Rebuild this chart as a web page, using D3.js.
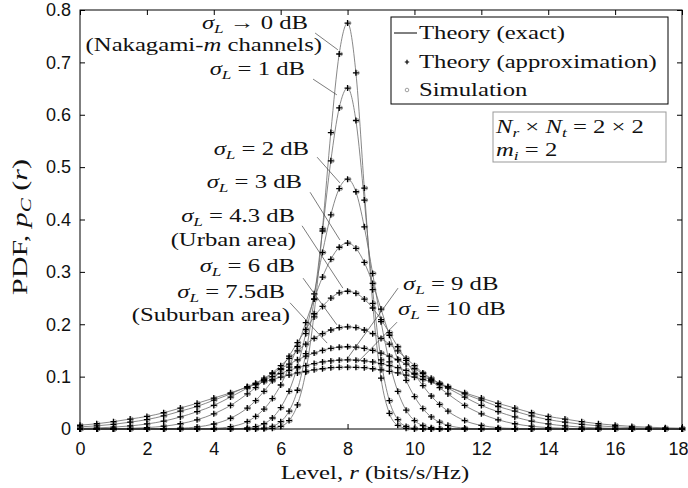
<!DOCTYPE html>
<html>
<head>
<meta charset="utf-8">
<script src="https://cdn.jsdelivr.net/npm/d3@7"></script>
<style>
  body { margin: 0; background: #fff; }
</style>
</head>
<body>
<svg id="chart" width="688" height="488"></svg>
<script>
const levels = [0, 0.5, 1, 1.5, 2, 2.5, 3, 3.5, 4, 4.5, 5,
  5.25, 5.5, 5.75, 6, 6.25, 6.5, 6.75, 7, 7.25, 7.5, 7.75, 8,
  8.25, 8.5, 8.75, 9, 9.25, 9.5, 9.75, 10, 10.25, 10.5, 10.75,
  11, 11.5, 12, 12.5, 13, 13.5, 14, 14.5, 15, 15.5, 16, 16.5, 17, 17.5, 18];

// PDF values, one array per shadowing spread
const pdf0dB = [0, 0, 0, 0, 0, 0, 0, 0, 0, 0, 0,
  0, 0.0003, 0.0013, 0.005, 0.016, 0.046, 0.109, 0.220, 0.382, 0.566, 0.716, 0.775,
  0.680, 0.460, 0.240, 0.097, 0.030, 0.007, 0.0013, 0, 0, 0, 0,
  0, 0, 0, 0, 0, 0, 0, 0, 0, 0, 0, 0, 0, 0, 0];
const pdf1dB = [0, 0, 0, 0, 0, 0, 0, 0, 0, 0, 0.0001,
  0.0005, 0.0016, 0.005, 0.014, 0.034, 0.074, 0.144, 0.248, 0.378, 0.512, 0.613, 0.651,
  0.589, 0.437, 0.266, 0.132, 0.054, 0.018, 0.005, 0.0011, 0.0002, 0, 0,
  0, 0, 0, 0, 0, 0, 0, 0, 0, 0, 0, 0, 0, 0, 0];
const pdf2dB = [0, 0, 0, 0, 0, 0, 0, 0, 0, 0.0002, 0.0019,
  0.0045, 0.010, 0.021, 0.041, 0.072, 0.119, 0.182, 0.258, 0.337, 0.409, 0.459, 0.477,
  0.453, 0.386, 0.297, 0.205, 0.128, 0.072, 0.036, 0.016, 0.0067, 0.0024, 0.0008,
  0.0002, 0, 0, 0, 0, 0, 0, 0, 0, 0, 0, 0, 0, 0, 0];
const pdf3dB = [0, 0, 0, 0, 0, 0, 0, 0.0003, 0.0011, 0.0044, 0.014,
  0.024, 0.038, 0.058, 0.084, 0.118, 0.158, 0.203, 0.248, 0.290, 0.324, 0.347, 0.355,
  0.345, 0.318, 0.278, 0.229, 0.179, 0.133, 0.093, 0.062, 0.039, 0.023, 0.013,
  0.007, 0.0017, 0.0003, 0, 0, 0, 0, 0, 0, 0, 0, 0, 0, 0, 0];
const pdf43dB = [0, 0, 0, 0, 0.0001, 0.0005, 0.0014, 0.0039, 0.0095, 0.0205, 0.040,
  0.054, 0.072, 0.092, 0.114, 0.139, 0.165, 0.190, 0.214, 0.234, 0.250, 0.260, 0.263,
  0.259, 0.248, 0.231, 0.209, 0.184, 0.157, 0.131, 0.105, 0.083, 0.063, 0.047,
  0.034, 0.016, 0.0068, 0.0026, 0.0009, 0.0003, 0, 0, 0, 0, 0, 0, 0, 0, 0];
const pdf6dB = [0.0001, 0.0002, 0.0006, 0.0013, 0.0027, 0.0053, 0.0100, 0.0176, 0.029, 0.045, 0.067,
  0.079, 0.093, 0.107, 0.121, 0.135, 0.149, 0.162, 0.173, 0.182, 0.189, 0.1936, 0.195,
  0.1936, 0.189, 0.182, 0.173, 0.162, 0.149, 0.135, 0.121, 0.107, 0.093, 0.079,
  0.067, 0.045, 0.029, 0.0176, 0.0100, 0.0053, 0.0027, 0.0013, 0.0006, 0.0002, 0.0001, 0, 0, 0, 0];
const pdf75dB = [0.0011, 0.0020, 0.0035, 0.0059, 0.0096, 0.015, 0.023, 0.033, 0.045, 0.061, 0.078,
  0.087, 0.097, 0.106, 0.115, 0.124, 0.132, 0.139, 0.145, 0.150, 0.154, 0.1562, 0.157,
  0.1562, 0.154, 0.150, 0.145, 0.139, 0.132, 0.124, 0.115, 0.106, 0.097, 0.087,
  0.078, 0.061, 0.045, 0.033, 0.023, 0.015, 0.0096, 0.0059, 0.0035, 0.0020, 0.0011, 0.0006, 0.0003, 0.0001, 0.0001];
const pdf9dB = [0.0040, 0.0060, 0.0090, 0.013, 0.018, 0.025, 0.034, 0.043, 0.055, 0.067, 0.081,
  0.087, 0.094, 0.100, 0.106, 0.112, 0.117, 0.121, 0.125, 0.128, 0.130, 0.1315, 0.132,
  0.1315, 0.130, 0.128, 0.125, 0.121, 0.117, 0.112, 0.106, 0.100, 0.094, 0.087,
  0.081, 0.067, 0.055, 0.043, 0.034, 0.025, 0.018, 0.013, 0.0090, 0.0060, 0.0040, 0.0025, 0.0015, 0.0009, 0.0006];
const pdf10dB = [0.0072, 0.010, 0.014, 0.019, 0.024, 0.031, 0.040, 0.049, 0.059, 0.069, 0.080,
  0.085, 0.090, 0.0945, 0.099, 0.103, 0.107, 0.110, 0.113, 0.115, 0.117, 0.1177, 0.118,
  0.1177, 0.117, 0.115, 0.113, 0.110, 0.107, 0.103, 0.099, 0.0945, 0.090, 0.085,
  0.080, 0.069, 0.059, 0.049, 0.040, 0.031, 0.024, 0.019, 0.014, 0.010, 0.0072, 0.0050, 0.0034, 0.0023, 0.0015];

const curves = [pdf0dB, pdf1dB, pdf2dB, pdf3dB, pdf43dB, pdf6dB, pdf75dB, pdf9dB, pdf10dB];

const xTicks = [0, 2, 4, 6, 8, 10, 12, 14, 16, 18];
const yTicks = [0, 0.1, 0.2, 0.3, 0.4, 0.5, 0.6, 0.7, 0.8];
const legendLabels = ["Theory (exact)", "Theory (approximation)", "Simulation"];

const svg = d3.select("#chart");
const x = d3.scaleLinear().domain([0, 18]).range([80, 682]);
const y = d3.scaleLinear().domain([0, 0.8]).range([429, 10]);
const serif = "'Liberation Serif', 'Times New Roman', serif";

// text with italic / subscript pieces, widened to look like Computer Modern
function mathText(g, px, py, anchor, parts, opts = {}) {
  const size = opts.size || 19;
  const sx = opts.sx || 1.3;
  const t = g.append("text")
    .attr("transform", `translate(${px},${py})${opts.rotate ? " rotate(-90)" : ""} scale(${sx},1)`)
    .attr("text-anchor", anchor)
    .attr("font-family", serif)
    .attr("font-size", size)
    .attr("fill", "#111");
  let down = false;
  parts.forEach(([txt, kind]) => {
    const s = t.append("tspan").text(txt);
    if (kind === "i" || kind === "s") s.attr("font-style", "italic");
    if (kind === "s") {
      s.attr("font-size", size * 0.7).attr("dy", 4);
      down = true;
    } else if (down) {
      s.attr("dy", -4);
      down = false;
    }
  });
  return t;
}

// axes (ticks inside, mirrored top/right)
const fmt = (d) => (d === 0 ? "0" : d3.format(".1f")(d));
const gx = svg.append("g").attr("transform", "translate(0,429)")
  .call(d3.axisBottom(x).tickValues(xTicks).tickSize(-5).tickPadding(13).tickFormat(d3.format("d")));
const gy = svg.append("g").attr("transform", "translate(80,0)")
  .call(d3.axisLeft(y).tickValues(yTicks).tickSize(-5).tickPadding(9).tickFormat(fmt));
const gt = svg.append("g").attr("transform", "translate(0,10)")
  .call(d3.axisTop(x).tickValues(xTicks).tickSize(-5).tickFormat(""));
const gr = svg.append("g").attr("transform", "translate(682,0)")
  .call(d3.axisRight(y).tickValues(yTicks).tickSize(-5).tickFormat(""));
[gx, gy, gt, gr].forEach((g) => {
  g.select(".domain").remove();
  g.selectAll(".tick line").attr("stroke", "#000").attr("stroke-width", 1);
  g.selectAll(".tick text")
    .attr("font-family", "'Liberation Sans', Arial, sans-serif")
    .attr("font-size", 18)
    .attr("fill", "#111");
});
// keep the last x label inside the picture
gx.selectAll(".tick text").filter((d) => d === 18).attr("dx", -4);

// curves
const line = d3.line()
  .x((d, i) => x(levels[i]))
  .y((d) => y(d))
  .curve(d3.curveMonotoneX);

const plot = svg.append("g");
curves.forEach((c) => {
  plot.append("path")
    .attr("d", line(c))
    .attr("fill", "none")
    .attr("stroke", "#6a6a6a")
    .attr("stroke-width", 0.8);
});
curves.forEach((c) => {
  plot.selectAll(null).data(c).enter().append("circle")
    .attr("cx", (d, i) => x(levels[i]) + 1.5)
    .attr("cy", (d) => y(d))
    .attr("r", 1.9)
    .attr("fill", "none")
    .attr("stroke", "#8a8a8a")
    .attr("stroke-width", 0.8);
});
const plus = (s) => `M${-s},0H${s}M0,${-s}V${s}`;
curves.forEach((c) => {
  plot.selectAll(null).data(c).enter().append("path")
    .attr("transform", (d, i) => `translate(${x(levels[i])},${y(d)})`)
    .attr("d", plus(3))
    .attr("stroke", "#000")
    .attr("stroke-width", 1.3);
});

// frame
svg.append("rect")
  .attr("x", 80).attr("y", 10).attr("width", 602).attr("height", 419)
  .attr("fill", "none").attr("stroke", "#000").attr("stroke-width", 1);

// annotations: label position in pixels, leader from/to in data units
const ann = svg.append("g");
const notes = [
  { px: 308, py: 29, a: "end", parts: [["σ", "i"], ["L", "s"], [" → 0 dB", "n"]], from: [7.03, 0.756], to: [7.71, 0.724] },
  { px: 322, py: 51, a: "end", parts: [["(Nakagami-", "n"], ["m", "i"], [" channels)", "n"]] },
  { px: 305, py: 75, a: "end", parts: [["σ", "i"], ["L", "s"], [" = 1 dB", "n"]], from: [6.97, 0.668], to: [7.68, 0.638] },
  { px: 309, py: 155, a: "end", parts: [["σ", "i"], ["L", "s"], [" = 2 dB", "n"]], from: [7.09, 0.519], to: [7.77, 0.470] },
  { px: 302, py: 188, a: "end", parts: [["σ", "i"], ["L", "s"], [" = 3 dB", "n"]], from: [6.88, 0.452], to: [7.77, 0.361] },
  { px: 295, py: 222, a: "end", parts: [["σ", "i"], ["L", "s"], [" = 4.3 dB", "n"]], from: [6.64, 0.388], to: [7.86, 0.269] },
  { px: 296, py: 246, a: "end", parts: [["(Urban area)", "n"]] },
  { px: 295, py: 272, a: "end", parts: [["σ", "i"], ["L", "s"], [" = 6 dB", "n"]], from: [6.67, 0.288], to: [7.68, 0.199] },
  { px: 285, py: 298, a: "end", parts: [["σ", "i"], ["L", "s"], [" = 7.5dB", "n"]], from: [6.28, 0.241], to: [7.39, 0.164] },
  { px: 290, py: 321, a: "end", parts: [["(Suburban area)", "n"]] },
  { px: 403, py: 290, a: "start", parts: [["σ", "i"], ["L", "s"], [" = 9 dB", "n"]], from: [9.51, 0.269], to: [8.01, 0.136] },
  { px: 398, py: 315, a: "start", parts: [["σ", "i"], ["L", "s"], [" = 10 dB", "n"]], from: [9.48, 0.204], to: [8.31, 0.128] },
];
notes.forEach((n) => {
  if (n.from) {
    ann.append("line")
      .attr("x1", x(n.from[0])).attr("y1", y(n.from[1]))
      .attr("x2", x(n.to[0])).attr("y2", y(n.to[1]))
      .attr("stroke", "#444").attr("stroke-width", 0.7);
  }
  mathText(ann, n.px, n.py, n.a, n.parts);
});

// legend
const leg = svg.append("g");
leg.append("rect").attr("x", 391).attr("y", 17).attr("width", 277).attr("height", 87)
  .attr("fill", "#fff").attr("stroke", "#000").attr("stroke-width", 1);
leg.append("line").attr("x1", 394).attr("x2", 417).attr("y1", 33).attr("y2", 33)
  .attr("stroke", "#000").attr("stroke-width", 1);
leg.append("path").attr("transform", "translate(407,62)").attr("d", plus(2.2))
  .attr("stroke", "#000").attr("stroke-width", 1.2);
leg.append("circle").attr("cx", 407).attr("cy", 90).attr("r", 1.8)
  .attr("fill", "none").attr("stroke", "#888").attr("stroke-width", 0.8);
legendLabels.forEach((l, i) => {
  mathText(leg, 419, 39 + i * 28.5, "start", [[l, "n"]]);
});

// parameter box
const par = svg.append("g");
par.append("rect").attr("x", 493).attr("y", 112).attr("width", 173).attr("height", 50)
  .attr("fill", "#fff").attr("stroke", "#999").attr("stroke-width", 1);
mathText(par, 496, 133, "start", [["N", "i"], ["r", "s"], [" × ", "n"], ["N", "i"], ["t", "s"], [" = 2 × 2", "n"]]);
mathText(par, 496, 156, "start", [["m", "i"], ["i", "s"], [" = 2", "n"]]);

// axis titles
mathText(svg, 375, 479, "middle", [["Level, ", "n"], ["r", "i"], [" (bits/s/Hz)", "n"]]);
mathText(svg, 27, 227, "middle", [["PDF, ", "n"], ["p", "i"], ["C", "s"], [" (", "n"], ["r", "i"], [")", "n"]], { rotate: true, size: 20, sx: 1.5 });
</script>
</body>
</html>
